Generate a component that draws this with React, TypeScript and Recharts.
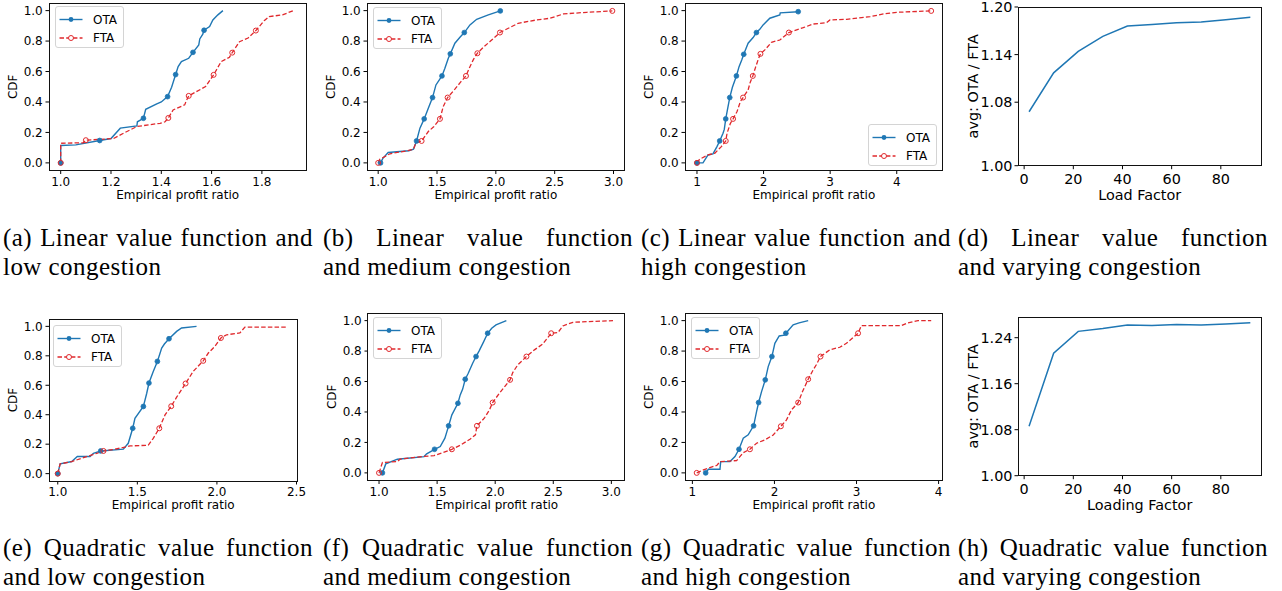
import React from "react";
import { ComposedChart, LineChart, Line, XAxis, YAxis } from "recharts";

const BLUE = "#1f77b4";
const RED = "#e0282c";

// CDF curves, [profit ratio, cdf] pairs
const aOta = [[1.0, 0], [1.0, 0.114], [1.06, 0.118], [1.155, 0.147], [1.2, 0.16], [1.237, 0.228], [1.303, 0.243], [1.305, 0.27], [1.329, 0.293], [1.338, 0.352], [1.382, 0.387], [1.4, 0.4], [1.425, 0.435], [1.441, 0.497], [1.457, 0.58], [1.467, 0.632], [1.48, 0.665], [1.509, 0.687], [1.526, 0.726], [1.549, 0.775], [1.553, 0.814], [1.565, 0.845], [1.57, 0.871], [1.592, 0.895], [1.605, 0.939], [1.625, 0.972], [1.645, 1.0]];
const aOtaMarks = [[1.0, 0], [1.155, 0.147], [1.329, 0.293], [1.425, 0.435], [1.457, 0.58], [1.526, 0.726], [1.57, 0.871]];
const aFta = [[1.0, 0], [1.0, 0.129], [1.09, 0.132], [1.1, 0.149], [1.21, 0.16], [1.25, 0.195], [1.303, 0.239], [1.395, 0.26], [1.415, 0.27], [1.428, 0.295], [1.447, 0.348], [1.493, 0.381], [1.5, 0.41], [1.509, 0.44], [1.533, 0.462], [1.576, 0.501], [1.608, 0.578], [1.638, 0.665], [1.671, 0.694], [1.682, 0.724], [1.711, 0.796], [1.745, 0.82], [1.776, 0.869], [1.809, 0.934], [1.829, 0.961], [1.882, 0.972], [1.925, 1.0]];
const aFtaMarks = [[1.0, 0], [1.1, 0.149], [1.428, 0.295], [1.509, 0.44], [1.608, 0.578], [1.682, 0.724], [1.776, 0.869]];

const bOta = [[1.02, 0], [1.04, 0.03], [1.085, 0.068], [1.26, 0.08], [1.3, 0.09], [1.326, 0.144], [1.355, 0.228], [1.391, 0.289], [1.426, 0.359], [1.462, 0.429], [1.491, 0.512], [1.542, 0.571], [1.567, 0.621], [1.596, 0.687], [1.613, 0.716], [1.652, 0.786], [1.695, 0.825], [1.732, 0.856], [1.78, 0.906], [1.837, 0.943], [1.936, 0.972], [2.038, 0.998]];
const bOtaMarks = [[1.02, 0], [1.326, 0.144], [1.391, 0.289], [1.462, 0.429], [1.542, 0.571], [1.613, 0.716], [1.732, 0.856], [2.038, 0.998]];
const bFta = [[1.0, 0], [1.014, 0.024], [1.1, 0.06], [1.25, 0.08], [1.3, 0.09], [1.32, 0.13], [1.369, 0.144], [1.426, 0.206], [1.474, 0.239], [1.525, 0.289], [1.553, 0.37], [1.59, 0.429], [1.652, 0.484], [1.7, 0.53], [1.746, 0.571], [1.78, 0.632], [1.81, 0.68], [1.843, 0.72], [1.894, 0.759], [1.95, 0.797], [2.035, 0.856], [2.106, 0.884], [2.19, 0.917], [2.348, 0.939], [2.461, 0.95], [2.574, 0.978], [2.773, 0.989], [2.99, 0.998]];
const bFtaMarks = [[1.0, 0], [1.369, 0.144], [1.525, 0.289], [1.59, 0.429], [1.746, 0.571], [1.843, 0.72], [2.035, 0.856], [2.99, 0.998]];

const cOta = [[1.0, 0], [1.09, 0], [1.166, 0.052], [1.24, 0.059], [1.3, 0.107], [1.341, 0.144], [1.391, 0.195], [1.41, 0.22], [1.432, 0.289], [1.457, 0.348], [1.492, 0.429], [1.532, 0.497], [1.592, 0.571], [1.632, 0.632], [1.672, 0.676], [1.702, 0.713], [1.768, 0.786], [1.843, 0.823], [1.893, 0.856], [1.943, 0.877], [1.993, 0.906], [2.094, 0.95], [2.244, 0.972], [2.25, 0.985], [2.52, 0.993]];
const cOtaMarks = [[1.0, 0], [1.341, 0.144], [1.432, 0.289], [1.492, 0.429], [1.592, 0.571], [1.702, 0.713], [1.893, 0.856], [2.52, 0.993]];
const cFta = [[1.0, 0], [1.04, 0.024], [1.166, 0.052], [1.266, 0.063], [1.366, 0.107], [1.432, 0.144], [1.452, 0.195], [1.502, 0.26], [1.542, 0.289], [1.602, 0.337], [1.652, 0.403], [1.692, 0.429], [1.768, 0.479], [1.8, 0.53], [1.838, 0.571], [1.883, 0.632], [1.92, 0.68], [1.953, 0.716], [2.019, 0.742], [2.119, 0.792], [2.244, 0.807], [2.38, 0.856], [2.596, 0.888], [2.746, 0.912], [2.947, 0.921], [2.997, 0.939], [3.248, 0.943], [3.6, 0.96], [3.8, 0.978], [4.0, 0.989], [4.517, 0.998]];
const cFtaMarks = [[1.0, 0], [1.432, 0.144], [1.542, 0.289], [1.692, 0.429], [1.838, 0.571], [1.953, 0.716], [2.38, 0.856], [4.517, 0.998]];

const eOta = [[1.0, 0], [1.015, 0.066], [1.088, 0.082], [1.123, 0.116], [1.203, 0.116], [1.224, 0.138], [1.27, 0.154], [1.412, 0.166], [1.443, 0.206], [1.471, 0.308], [1.485, 0.376], [1.538, 0.456], [1.559, 0.546], [1.573, 0.615], [1.6, 0.694], [1.626, 0.762], [1.653, 0.853], [1.67, 0.88], [1.699, 0.916], [1.747, 0.966], [1.778, 0.989], [1.872, 1.0]];
const eOtaMarks = [[1.0, 0], [1.27, 0.154], [1.471, 0.308], [1.538, 0.456], [1.573, 0.615], [1.626, 0.762], [1.699, 0.916]];
const eFta = [[1.0, 0], [1.015, 0.066], [1.088, 0.082], [1.182, 0.116], [1.245, 0.138], [1.287, 0.154], [1.36, 0.166], [1.454, 0.188], [1.569, 0.193], [1.6, 0.24], [1.638, 0.308], [1.674, 0.399], [1.713, 0.458], [1.747, 0.519], [1.803, 0.612], [1.851, 0.694], [1.914, 0.766], [1.946, 0.819], [1.987, 0.864], [2.025, 0.921], [2.061, 0.943], [2.144, 0.955], [2.176, 0.995], [2.437, 0.995]];
const eFtaMarks = [[1.0, 0], [1.287, 0.154], [1.638, 0.308], [1.713, 0.458], [1.803, 0.612], [1.914, 0.766], [2.025, 0.921]];

const fOta = [[1.029, 0], [1.058, 0.059], [1.158, 0.09], [1.388, 0.107], [1.41, 0.125], [1.478, 0.155], [1.527, 0.173], [1.567, 0.228], [1.599, 0.309], [1.627, 0.381], [1.679, 0.457], [1.699, 0.512], [1.72, 0.55], [1.742, 0.615], [1.768, 0.654], [1.806, 0.72], [1.835, 0.764], [1.863, 0.803], [1.9, 0.86], [1.935, 0.917], [1.97, 0.95], [2.007, 0.972], [2.096, 1.0]];
const fOtaMarks = [[1.029, 0], [1.478, 0.155], [1.599, 0.309], [1.679, 0.457], [1.742, 0.615], [1.835, 0.764], [1.935, 0.917]];
const fFta = [[1.0, 0], [1.029, 0.068], [1.158, 0.074], [1.18, 0.09], [1.374, 0.107], [1.475, 0.114], [1.547, 0.133], [1.627, 0.155], [1.705, 0.184], [1.786, 0.223], [1.83, 0.25], [1.843, 0.309], [1.906, 0.359], [1.95, 0.413], [1.978, 0.462], [2.036, 0.523], [2.094, 0.578], [2.128, 0.611], [2.151, 0.659], [2.194, 0.709], [2.269, 0.764], [2.338, 0.808], [2.41, 0.847], [2.482, 0.917], [2.54, 0.921], [2.583, 0.965], [2.669, 0.989], [3.014, 1.0]];
const fFtaMarks = [[1.0, 0], [1.627, 0.155], [1.843, 0.309], [1.978, 0.462], [2.128, 0.611], [2.269, 0.764], [2.482, 0.917]];

const gOta = [[1.162, 0], [1.195, 0.024], [1.336, 0.024], [1.345, 0.074], [1.458, 0.074], [1.519, 0.107], [1.568, 0.155], [1.62, 0.228], [1.68, 0.25], [1.746, 0.309], [1.782, 0.403], [1.807, 0.462], [1.843, 0.534], [1.888, 0.611], [1.924, 0.698], [1.969, 0.764], [2.005, 0.851], [2.058, 0.899], [2.12, 0.905], [2.139, 0.917], [2.228, 0.972], [2.3, 0.985], [2.411, 1.0]];
const gOtaMarks = [[1.162, 0], [1.568, 0.155], [1.746, 0.309], [1.807, 0.462], [1.888, 0.611], [1.969, 0.764], [2.139, 0.917]];
const gFta = [[1.053, 0], [1.134, 0.02], [1.3, 0.05], [1.336, 0.074], [1.539, 0.081], [1.62, 0.133], [1.701, 0.155], [1.782, 0.195], [1.884, 0.217], [1.985, 0.249], [2.078, 0.306], [2.147, 0.348], [2.208, 0.414], [2.289, 0.462], [2.342, 0.534], [2.411, 0.615], [2.471, 0.676], [2.51, 0.71], [2.561, 0.764], [2.674, 0.808], [2.796, 0.825], [2.877, 0.851], [3.019, 0.917], [3.059, 0.967], [3.546, 0.967], [3.62, 0.985], [3.748, 1.0], [3.91, 1.0]];
const gFtaMarks = [[1.053, 0], [1.701, 0.155], [2.078, 0.306], [2.289, 0.462], [2.411, 0.615], [2.561, 0.764], [3.019, 0.917]];

// varying congestion panels
const loadFactors = [2, 12, 22, 32, 42, 52, 62, 72, 82, 92];
const linearRatio = [1.068, 1.117, 1.144, 1.163, 1.176, 1.178, 1.18, 1.181, 1.184, 1.187];
const quadRatio = [1.086, 1.213, 1.251, 1.256, 1.262, 1.261, 1.263, 1.262, 1.264, 1.266];

const cdfTicks = [0, 0.2, 0.4, 0.6, 0.8, 1.0];
const loadTicks = [0, 20, 40, 60, 80];

const captionFirst = [
  "(a) Linear value function and", "(b) Linear value function", "(c) Linear value function and", "(d) Linear value function",
  "(e) Quadratic value function", "(f) Quadratic value function", "(g) Quadratic value function", "(h) Quadratic value function",
];
const captionSecond = [
  "low congestion", "and medium congestion", "high congestion", "and varying congestion",
  "and low congestion", "and medium congestion", "and high congestion", "and varying congestion",
];

const toPts = (pairs: number[][]) => pairs.map(([x, y]) => ({ x, y }));

// axes box, drawn on top of the plot area
function Frame({ frame }: { frame: number[] }) {
  const [fx, fy, fw, fh] = frame;
  return (
    <div style={{ position: "absolute", left: fx - 0.5, top: fy - 0.5, width: fw + 1, height: fh + 1, border: "1px solid #111", boxSizing: "border-box", pointerEvents: "none" }} />
  );
}

function CdfLegend({ x, y }: { x: number; y: number }) {
  return (
    <div style={{ position: "absolute", left: x, top: y, width: 69, height: 42, border: "1px solid #d4d4d4", borderRadius: 3, background: "rgba(255,255,255,0.85)", boxSizing: "border-box" }}>
      <svg width={69} height={42} style={{ position: "absolute", left: -1, top: -1 }}>
        <line x1={4.5} x2={27.5} y1={13.5} y2={13.5} stroke={BLUE} strokeWidth={1.4} />
        <circle cx={16} cy={13.5} r={2.4} fill={BLUE} />
        <line x1={4.5} x2={27.5} y1={32} y2={32} stroke={RED} strokeWidth={1.3} strokeDasharray="4.5 2.2" />
        <circle cx={16} cy={32} r={2.5} fill="#fff" stroke={RED} strokeWidth={1} />
        <text x={38} y={13.5} dominantBaseline="central" fontSize={12} fill="#000">OTA</text>
        <text x={38} y={32} dominantBaseline="central" fontSize={12} fill="#000">FTA</text>
      </svg>
    </div>
  );
}

type CdfProps = {
  frame: number[];
  xDomain: number[];
  xTicks: number[];
  xDigits: number;
  ota: number[][];
  otaMarks: number[][];
  fta: number[][];
  ftaMarks: number[][];
  legend: number[];
};

function CdfPanel({ frame, xDomain, xTicks, xDigits, ota, otaMarks, fta, ftaMarks, legend }: CdfProps) {
  const [fx, fy, fw, fh] = frame;
  const yW = 50, top = 12, right = 20, xH = 32;
  return (
    <>
      <div style={{ position: "absolute", left: fx - yW, top: fy - top }}>
        <ComposedChart width={fw + yW + right} height={fh + top + xH} margin={{ top, right, bottom: 0, left: 0 }}>
          <XAxis
            type="number" dataKey="x" domain={xDomain} allowDataOverflow ticks={xTicks} interval={0}
            tickFormatter={(v: number) => v.toFixed(xDigits)} height={xH} axisLine={false}
            tickSize={3.5} tickMargin={3.3} tick={{ fontSize: 12, fill: "#000" }} tickLine={{ stroke: "#000" }}
            label={() => (
              <text x={yW + fw / 2} y={top + fh + 24.4} textAnchor="middle" dominantBaseline="central" fontSize={12} fill="#000">
                Empirical profit ratio
              </text>
            )}
          />
          <YAxis
            type="number" domain={[-0.05, 1.05]} allowDataOverflow ticks={cdfTicks} interval={0}
            tickFormatter={(v: number) => v.toFixed(1)} width={yW} axisLine={false}
            tickSize={3.5} tickMargin={2.8} tick={{ fontSize: 12, fill: "#000" }} tickLine={{ stroke: "#000" }}
            label={() => (
              <text x={yW - 35.5} y={top + fh / 2} transform={`rotate(-90, ${yW - 35.5}, ${top + fh / 2})`} textAnchor="middle" dominantBaseline="central" fontSize={12} fill="#000">
                CDF
              </text>
            )}
          />
          <Line data={toPts(ota)} dataKey="y" type="linear" stroke={BLUE} strokeWidth={1.4} dot={false} activeDot={false} isAnimationActive={false} />
          <Line data={toPts(otaMarks)} dataKey="y" type="linear" stroke="none" dot={{ r: 2.4, fill: BLUE, stroke: BLUE, strokeWidth: 0.8 }} activeDot={false} isAnimationActive={false} />
          <Line data={toPts(fta)} dataKey="y" type="linear" stroke={RED} strokeWidth={1.3} strokeDasharray="4.5 2.2" dot={false} activeDot={false} isAnimationActive={false} />
          <Line data={toPts(ftaMarks)} dataKey="y" type="linear" stroke="none" dot={{ r: 2.5, fill: "none", stroke: RED, strokeWidth: 1 }} activeDot={false} isAnimationActive={false} />
        </ComposedChart>
      </div>
      <Frame frame={frame} />
      <CdfLegend x={legend[0]} y={legend[1]} />
    </>
  );
}

type RatioProps = { frame: number[]; values: number[]; yDomain: number[]; yTicks: number[]; xLabel: string };

function RatioPanel({ frame, values, yDomain, yTicks, xLabel }: RatioProps) {
  const [fx, fy, fw, fh] = frame;
  const yW = 60, top = 12, right = 16, xH = 40;
  const rows = loadFactors.map((load, i) => ({ load, ratio: values[i] }));
  return (
    <>
      <div style={{ position: "absolute", left: fx - yW, top: fy - top }}>
        <LineChart width={fw + yW + right} height={fh + top + xH} data={rows} margin={{ top, right, bottom: 0, left: 0 }}>
          <XAxis
            type="number" dataKey="load" domain={[-2.5, 96.5]} allowDataOverflow ticks={loadTicks} interval={0}
            height={xH} axisLine={false} tickSize={3.5} tickMargin={4.8}
            tick={{ fontSize: 14.4, fill: "#000" }} tickLine={{ stroke: "#000" }}
            label={() => (
              <text x={yW + fw / 2} y={top + fh + 29} textAnchor="middle" dominantBaseline="central" fontSize={14.4} fill="#000">
                {xLabel}
              </text>
            )}
          />
          <YAxis
            type="number" domain={yDomain} allowDataOverflow ticks={yTicks} interval={0}
            tickFormatter={(v: number) => v.toFixed(2)} width={yW} axisLine={false}
            tickSize={3.5} tickMargin={2} tick={{ fontSize: 14.4, fill: "#000" }} tickLine={{ stroke: "#000" }}
            label={() => (
              <text x={yW - 45} y={top + fh / 2} transform={`rotate(-90, ${yW - 45}, ${top + fh / 2})`} textAnchor="middle" dominantBaseline="central" fontSize={14.4} fill="#000">
                avg: OTA / FTA
              </text>
            )}
          />
          <Line dataKey="ratio" type="linear" stroke={BLUE} strokeWidth={1.5} dot={false} activeDot={false} isAnimationActive={false} />
        </LineChart>
      </div>
      <Frame frame={frame} />
    </>
  );
}

function Caption({ x, y, first, second }: { x: number; y: number; first: string; second: string }) {
  return (
    <div style={{ position: "absolute", left: x, top: y, width: 310, fontFamily: '"Liberation Serif", serif', fontSize: 25, lineHeight: "29px", letterSpacing: "0.45px", color: "#000" }}>
      <div style={{ textAlign: "justify", textAlignLast: "justify" }}>{first}</div>
      <div>{second}</div>
    </div>
  );
}

const captionX = [3, 323, 641, 958];

export default function App() {
  return (
    <div style={{ position: "absolute", left: 0, top: 0, width: 1282, height: 591, background: "#fff", fontFamily: '"DejaVu Sans", sans-serif', overflow: "hidden" }}>
      <CdfPanel frame={[49, 3.1, 257.3, 167.5]} xDomain={[0.9535, 1.9765]} xTicks={[1.0, 1.2, 1.4, 1.6, 1.8]} xDigits={1}
        ota={aOta} otaMarks={aOtaMarks} fta={aFta} ftaMarks={aFtaMarks} legend={[55, 6]} />
      <CdfPanel frame={[367.3, 3.1, 257.7, 167.5]} xDomain={[0.905, 3.095]} xTicks={[1.0, 1.5, 2.0, 2.5, 3.0]} xDigits={1}
        ota={bOta} otaMarks={bOtaMarks} fta={bFta} ftaMarks={bFtaMarks} legend={[373.3, 7.3]} />
      <CdfPanel frame={[685, 3.1, 257.7, 167.5]} xDomain={[0.82, 4.69]} xTicks={[1, 2, 3, 4]} xDigits={0}
        ota={cOta} otaMarks={cOtaMarks} fta={cFta} ftaMarks={cFtaMarks} legend={[868, 124]} />
      <RatioPanel frame={[1018.3, 7.3, 243.4, 158.7]} values={linearRatio} yDomain={[1.0, 1.2]} yTicks={[1.0, 1.08, 1.14, 1.2]} xLabel="Load Factor" />

      <CdfPanel frame={[49, 319, 248.3, 162]} xDomain={[0.945, 2.505]} xTicks={[1.0, 1.5, 2.0, 2.5]} xDigits={1}
        ota={eOta} otaMarks={eOtaMarks} fta={eFta} ftaMarks={eFtaMarks} legend={[53.3, 325]} />
      <CdfPanel frame={[367.7, 313.1, 257.3, 167.5]} xDomain={[0.905, 3.12]} xTicks={[1.0, 1.5, 2.0, 2.5, 3.0]} xDigits={1}
        ota={fOta} otaMarks={fOtaMarks} fta={fFta} ftaMarks={fFtaMarks} legend={[373.3, 317.3]} />
      <CdfPanel frame={[685, 313.1, 257.7, 167.5]} xDomain={[0.91, 4.05]} xTicks={[1, 2, 3, 4]} xDigits={0}
        ota={gOta} otaMarks={gOtaMarks} fta={gFta} ftaMarks={gFtaMarks} legend={[691, 316.7]} />
      <RatioPanel frame={[1018.3, 317.3, 243.4, 158.7]} values={quadRatio} yDomain={[1.0, 1.276]} yTicks={[1.0, 1.08, 1.16, 1.24]} xLabel="Loading Factor" />

      {captionFirst.map((first, i) => (
        <Caption key={first} x={captionX[i % 4]} y={i < 4 ? 222.5 : 532.5} first={first} second={captionSecond[i]} />
      ))}
    </div>
  );
}
